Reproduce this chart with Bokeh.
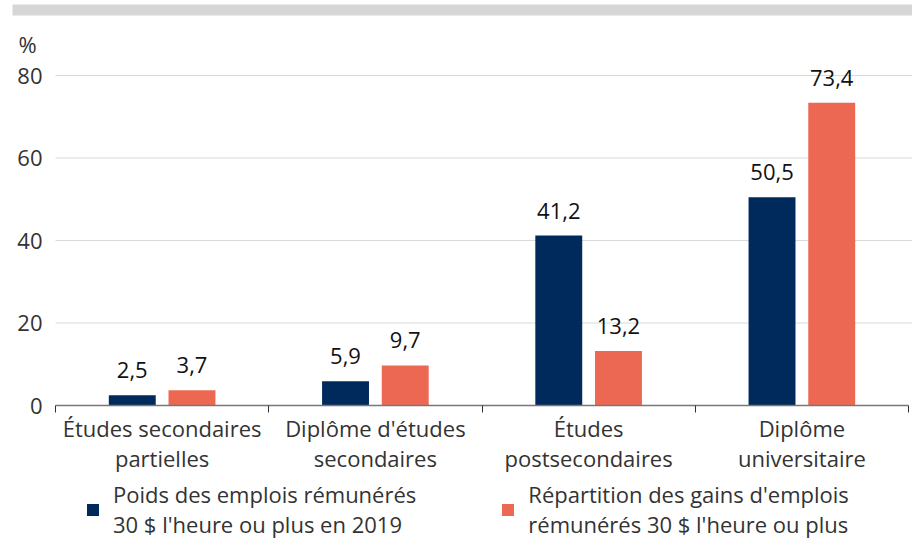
from bokeh.plotting import figure
from bokeh.models import (ColumnDataSource, FixedTicker, LabelSet, Label, BoxAnnotation,
                          Legend, LegendItem, Range1d)
from bokeh.transform import dodge
from bokeh.core.properties import value
from bokeh.embed import file_html
from bokeh.resources import INLINE

categories = ["Études secondaires\npartielles", "Diplôme d'études\nsecondaires",
              "Études\npostsecondaires", "Diplôme\nuniversitaire"]
poids = [2.5, 5.9, 41.2, 50.5]
gains = [3.7, 9.7, 13.2, 73.4]
series_names = ["Poids des emplois rémunérés\n30 $ l'heure ou plus en 2019",
                "Répartition des gains d'emplois\nrémunérés 30 $ l'heure ou plus"]
y_ticks = [0, 20, 40, 60, 80]

NAVY = "#002a5c"
CORAL = "#ec6853"
FONT = "Open Sans"
TXT = "#333333"
FS = "22px"

n = len(categories)
xs = [i + 0.5 for i in range(n)]
fmt = lambda v: f"{v:.1f}".replace(".", ",")
src = ColumnDataSource(dict(x=xs, poids=poids, gains=gains,
                            poids_lbl=[fmt(v) for v in poids],
                            gains_lbl=[fmt(v) for v in gains]))

# layout: the frame fills the whole canvas; axes are pinned with fixed_location
W, H = 912, 538
X0, X1 = 55, 908          # pixel span of the category axis
Y0, YTOP = 405, 75        # pixel of value 0 and of the top tick
ppx = (X1 - X0) / n
ppy = (Y0 - YTOP) / y_ticks[-1]
dx = lambda px: (px - X0) / ppx
dy = lambda py: (Y0 - py) / ppy

p = figure(width=W, height=H, output_backend="svg", toolbar_location=None,
           x_range=Range1d(dx(0), dx(W)), y_range=Range1d(dy(H), dy(0)), min_border=0)
p.outline_line_color = None
p.xgrid.visible = False
p.ygrid.visible = False

# horizontal grid lines starting at the plot's left edge
p.segment(x0=0, x1=dx(W), y0=y_ticks[1:], y1=y_ticks[1:], line_color="#d9d9d9", line_width=1)

r1 = p.vbar(x=dodge("x", -0.14), top="poids", width=0.22, source=src,
            fill_color=NAVY, line_color=None)
r2 = p.vbar(x=dodge("x", 0.14), top="gains", width=0.22, source=src,
            fill_color=CORAL, line_color=None)

for col, off in (("poids", -0.14), ("gains", 0.14)):
    p.add_layout(LabelSet(x=dodge("x", off), y=col, text=col + "_lbl", source=src,
                          y_offset=17, text_align="center", text_baseline="bottom",
                          text_font=value(FONT), text_font_size=FS, text_color="#111111"))

# x axis at value 0
xa = p.xaxis[0]
xa.fixed_location = 0
xa.bounds = (0, n)
xa.ticker = FixedTicker(ticks=xs, minor_ticks=list(range(n + 1)))
xa.major_label_overrides = {x: c for x, c in zip(xs, categories)}
xa.major_tick_line_color = None
xa.major_tick_out = 0
xa.major_tick_in = 0
xa.minor_tick_in = 0
xa.minor_tick_out = 7
xa.minor_tick_line_color = "#333333"
xa.axis_line_color = "#777777"
xa.axis_line_width = 1.5
xa.major_label_text_font = FONT
xa.major_label_text_font_size = FS
xa.major_label_text_color = TXT
xa.major_label_text_line_height = 1.0
xa.major_label_standoff = 0

# y axis at category start
ya = p.yaxis[0]
ya.fixed_location = 0
ya.ticker = FixedTicker(ticks=y_ticks)
ya.axis_line_color = None
ya.major_tick_line_color = None
ya.major_tick_out = 0
ya.major_tick_in = 0
ya.minor_tick_line_color = None
ya.major_label_text_font = FONT
ya.major_label_text_font_size = FS
ya.major_label_text_color = TXT
ya.major_label_standoff = 13

legend = Legend(items=[LegendItem(label=series_names[0], renderers=[r1]),
                       LegendItem(label=series_names[1], renderers=[r2])],
                orientation="horizontal", location=(85, -1),
                label_text_font=FONT, label_text_font_size=FS, label_text_color=TXT,
                glyph_width=15, glyph_height=15, spacing=84, label_standoff=13,
                border_line_color=None, background_fill_alpha=0, margin=0, padding=0)
p.add_layout(legend, "center")

# grey band along the top and the unit label
p.add_layout(BoxAnnotation(left=dx(12), right=dx(W), top=dy(4), bottom=dy(15),
                           fill_color="#d6d6d6", fill_alpha=1, line_color=None))
p.add_layout(Label(x=dx(18), y=dy(43), text="%", text_baseline="middle",
                   text_font=FONT, text_font_size=FS, text_color=TXT))

open("out.html", "w").write(file_html(p, INLINE))
